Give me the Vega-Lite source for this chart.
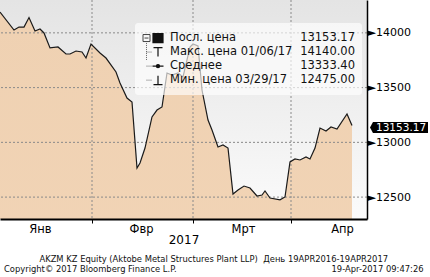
{
  "$schema": "https://vega.github.io/schema/vega-lite/v6.json",
  "width": 367,
  "height": 219,
  "autosize": {"type": "none"},
  "padding": {"left": 0, "top": 0, "right": 63, "bottom": 58},
  "background": "white",
  "config": {
    "font": "DejaVu Sans",
    "view": {"stroke": null, "fill": {"gradient": "linear", "x1": 0, "y1": 0, "x2": 0, "y2": 1, "stops": [{"offset": 0, "color": "#e4e4e4"}, {"offset": 1, "color": "#fbfbfb"}]}}
  },
  "title": {
    "text": "AKZM KZ Equity (Aktobe Metal Structures Plant LLP)\u00a0 День 19APR2016-19APR2017",
    "subtitle": "Copyright© 2017 Bloomberg Finance L.P.\u2003\u2003\u2003\u2003\u2003\u2003\u2003\u2003\u2003\u2003\u2003\u2003\u2003\u2003\u2003\u2003\u2003\u2003\u200219-Apr-2017 09:47:26",
    "orient": "bottom",
    "anchor": "middle",
    "frame": "bounds",
    "font": "DejaVu Sans",
    "fontSize": 8.4,
    "fontWeight": "normal",
    "color": "#111",
    "subtitleFont": "DejaVu Sans",
    "subtitleFontSize": 8.4,
    "subtitleColor": "#111",
    "subtitlePadding": 2,
    "offset": 9
  },
  "datasets": {
    "price": [
      {"d": 0.2, "price": 14190}, {"d": 3.0, "price": 14026}, {"d": 4.0, "price": 14053}, {"d": 5.0, "price": 14053},
      {"d": 6.0, "price": 14140}, {"d": 7.2, "price": 14017}, {"d": 8.2, "price": 14035}, {"d": 9.0, "price": 13999},
      {"d": 10.2, "price": 13862}, {"d": 11.8, "price": 13871}, {"d": 13.4, "price": 13807}, {"d": 14.2, "price": 13807},
      {"d": 15.4, "price": 13834}, {"d": 16.6, "price": 13825}, {"d": 17.4, "price": 13770}, {"d": 18.4, "price": 13898},
      {"d": 20.2, "price": 13816}, {"d": 21.4, "price": 13770}, {"d": 23.4, "price": 13643}, {"d": 24.2, "price": 13542},
      {"d": 25.6, "price": 13405}, {"d": 26.6, "price": 13369}, {"d": 27.6, "price": 12766}, {"d": 28.2, "price": 12812},
      {"d": 29.2, "price": 12948}, {"d": 30.6, "price": 13232}, {"d": 31.6, "price": 13295}, {"d": 32.6, "price": 13323},
      {"d": 33.6, "price": 13633}, {"d": 34.6, "price": 13615}, {"d": 35.8, "price": 13633}, {"d": 36.8, "price": 13597},
      {"d": 38.2, "price": 13871}, {"d": 38.8, "price": 13898}, {"d": 39.8, "price": 13880}, {"d": 40.6, "price": 13478},
      {"d": 41.8, "price": 13204}, {"d": 42.6, "price": 13113}, {"d": 43.8, "price": 12958}, {"d": 44.8, "price": 12976},
      {"d": 45.8, "price": 12948}, {"d": 46.8, "price": 12528}, {"d": 47.8, "price": 12565}, {"d": 49.0, "price": 12601},
      {"d": 50.2, "price": 12583}, {"d": 51.6, "price": 12510}, {"d": 52.6, "price": 12519}, {"d": 53.2, "price": 12556},
      {"d": 54.2, "price": 12492}, {"d": 56.2, "price": 12475}, {"d": 57.2, "price": 12501}, {"d": 58.2, "price": 12821},
      {"d": 59.2, "price": 12848}, {"d": 60.2, "price": 12839}, {"d": 61.4, "price": 12866}, {"d": 62.2, "price": 12848},
      {"d": 63.2, "price": 12948}, {"d": 64.2, "price": 13131}, {"d": 65.4, "price": 13104}, {"d": 66.4, "price": 13140},
      {"d": 67.6, "price": 13122}, {"d": 69.6, "price": 13259}, {"d": 70.6, "price": 13153.17}
    ],
    "stats": [
      {"row": 1, "label": "Посл. цена", "value": 13153.17},
      {"row": 2, "label": "Макс. цена 01/06/17", "value": 14140.00},
      {"row": 3, "label": "Среднее", "value": 13333.40},
      {"row": 4, "label": "Мин. цена 03/29/17", "value": 12475.00}
    ]
  },
  "layer": [
    {
      "layer": [
        {
          "data": {"name": "price"},
          "mark": {"type": "area", "clip": true, "line": false,
            "color": {"gradient": "linear", "x1": 0, "y1": 0, "x2": 0, "y2": 1, "stops": [{"offset": 0, "color": "#efd1b2"}, {"offset": 1, "color": "#fde3c8"}]}},
          "encoding": {
            "x": {"field": "d", "type": "quantitative", "scale": {"domain": [0.2, 73.6], "nice": false, "zero": false},
              "axis": {
                "values": [8.2, 18.6, 28.4, 38.8, 48.8, 58.4, 68.6],
                "grid": false, "domainColor": "#000", "domainWidth": 2,
                "tickColor": "#000", "tickSize": 4, "tickWidth": 1,
                "tickOpacity": {"condition": {"test": "datum.value == 8.2 || datum.value == 28.4 || datum.value == 48.8 || datum.value == 68.6", "value": 0}, "value": 1},
                "labelExpr": "datum.value == 8.2 ? 'Янв' : datum.value == 28.4 ? 'Фвр' : datum.value == 48.8 ? 'Мрт' : datum.value == 68.6 ? 'Апр' : ''",
                "labelFont": "DejaVu Sans", "labelFontSize": 11.5, "labelColor": "#000", "labelPadding": 0,
                "labelFlush": false, "labelOverlap": false,
                "title": "2017", "titleFont": "DejaVu Sans", "titleFontSize": 12, "titleFontWeight": "normal", "titleColor": "#000", "titlePadding": 0,
                "zindex": 1
              }},
            "y": {"field": "price", "type": "quantitative", "scale": {"domain": [12300, 14300], "nice": false, "zero": false},
              "axis": {
                "orient": "right",
                "values": [12500, 12750, 13000, 13250, 13500, 13750, 14000, 14250],
                "grid": false, "domainColor": "#000", "domainWidth": 1.5,
                "tickColor": "#000", "tickSize": 4,
                "tickOpacity": {"condition": {"test": "datum.value % 500 == 0", "value": 0}, "value": 1},
                "labelExpr": "datum.value % 500 == 0 ? '►' + datum.value : ''",
                "labelFont": "DejaVu Sans", "labelFontSize": 11, "labelColor": "#000", "labelPadding": -4,
                "labelBaseline": "middle", "labelFlush": false, "labelOverlap": false,
                "title": null, "zindex": 1
              }}
          }
        },
        {
          "data": {"values": [{"price": 12500}, {"price": 13000}, {"price": 13500}, {"price": 14000}]},
          "mark": {"type": "rule", "color": "#8a8a8a", "strokeDash": [2, 2], "strokeWidth": 1},
          "encoding": {"y": {"field": "price", "type": "quantitative"}}
        },
        {
          "data": {"values": [{"d": 18.6}, {"d": 38.8}, {"d": 58.4}]},
          "mark": {"type": "rule", "color": "#8a8a8a", "strokeDash": [2, 2], "strokeWidth": 1},
          "encoding": {"x": {"field": "d", "type": "quantitative"}}
        },
        {
          "data": {"name": "price"},
          "mark": {"type": "line", "clip": true, "color": "#1a1a1a", "strokeWidth": 1.2},
          "encoding": {
            "x": {"field": "d", "type": "quantitative"},
            "y": {"field": "price", "type": "quantitative"}
          }
        },
        {
          "data": {"values": [{}]},
          "mark": {"type": "rect", "fill": "white", "opacity": 0.65, "cornerRadius": 3},
          "encoding": {
            "x": {"datum": 27.2, "type": "quantitative"},
            "x2": {"datum": 72.6},
            "y": {"datum": 14090, "type": "quantitative"},
            "y2": {"datum": 13432}
          }
        },
        {
          "data": {"name": "price"},
          "transform": [{"joinaggregate": [{"op": "max", "field": "d", "as": "maxd"}]}, {"filter": "datum.d == datum.maxd"}],
          "mark": {"type": "point", "filled": true, "fill": "#000", "opacity": 1, "size": 23104,
            "shape": "M0.237,0.025L0.276,-0.047H1V0.097H0.276Z"},
          "encoding": {
            "x": {"field": "d", "type": "quantitative"},
            "y": {"field": "price", "type": "quantitative"}
          }
        },
        {
          "data": {"name": "price"},
          "transform": [{"joinaggregate": [{"op": "max", "field": "d", "as": "maxd"}]}, {"filter": "datum.d == datum.maxd"}],
          "mark": {"type": "text", "align": "left", "baseline": "middle", "dx": 24, "dy": 2, "color": "white", "font": "DejaVu Sans", "fontSize": 10.5},
          "encoding": {
            "x": {"field": "d", "type": "quantitative"},
            "y": {"field": "price", "type": "quantitative"},
            "text": {"field": "price", "type": "quantitative", "format": ".2f"}
          }
        }
      ]
    },
    {
      "data": {"name": "stats"},
      "layer": [
        {
          "transform": [{"filter": "datum.row == 1"}],
          "mark": {"type": "rule", "color": "#666", "strokeDash": [1, 1], "strokeWidth": 1, "yOffset": 24},
          "encoding": {
            "x": {"datum": 29.5, "type": "quantitative"},
            "y": {"datum": 1.35, "type": "quantitative", "scale": {"domain": [0, 15.6], "reverse": true}, "axis": null},
            "y2": {"datum": 4.3}
          }
        },
        {
          "transform": [{"filter": "datum.row > 1"}],
          "mark": {"type": "rule", "color": "#666", "strokeDash": [1, 1], "strokeWidth": 1, "yOffset": 24},
          "encoding": {
            "x": {"datum": 29.5, "type": "quantitative"},
            "x2": {"datum": 30.6},
            "y": {"field": "row", "type": "quantitative", "scale": {"domain": [0, 15.6], "reverse": true}, "axis": null}
          }
        },
        {
          "transform": [{"filter": "datum.row == 1"}],
          "mark": {"type": "point", "filled": false, "stroke": "#444", "strokeWidth": 1, "opacity": 1, "size": 400,
            "shape": "M-0.35,-0.35H0.35V0.35H-0.35ZM-0.2,0H0.2", "yOffset": 24},
          "encoding": {
            "x": {"datum": 29.5, "type": "quantitative"},
            "y": {"field": "row", "type": "quantitative", "scale": {"domain": [0, 15.6], "reverse": true}, "axis": null}
          }
        },
        {
          "mark": {"type": "point", "filled": true, "fill": "#111", "stroke": "#111", "strokeWidth": 1.2, "opacity": 1, "size": 400, "yOffset": 24},
          "encoding": {
            "x": {"datum": 31.8, "type": "quantitative"},
            "y": {"field": "row", "type": "quantitative", "scale": {"domain": [0, 15.6], "reverse": true}, "axis": null},
            "shape": {"field": "label", "type": "nominal", "legend": null,
              "scale": {"domain": ["Посл. цена", "Макс. цена 01/06/17", "Среднее", "Мин. цена 03/29/17"],
                "range": ["M-0.5,-0.45H0.5V0.45H-0.5Z", "M-0.45,-0.45H0.45M0,-0.45V0.45", "M-0.55,0H0.55M0.16,0A0.16,0.16,0,1,1,-0.16,0A0.16,0.16,0,1,1,0.16,0", "M0,-0.45V0.45M-0.45,0.45H0.45"]}}
          }
        },
        {
          "mark": {"type": "text", "align": "left", "baseline": "middle", "font": "DejaVu Sans", "fontSize": 11.5, "color": "#111", "yOffset": 24},
          "encoding": {
            "x": {"datum": 34.2, "type": "quantitative"},
            "y": {"field": "row", "type": "quantitative", "scale": {"domain": [0, 15.6], "reverse": true}, "axis": null},
            "text": {"field": "label", "type": "nominal"}
          }
        },
        {
          "mark": {"type": "text", "align": "right", "baseline": "middle", "font": "DejaVu Sans", "fontSize": 11.5, "color": "#111", "yOffset": 24},
          "encoding": {
            "x": {"datum": 71.2, "type": "quantitative"},
            "y": {"field": "row", "type": "quantitative", "scale": {"domain": [0, 15.6], "reverse": true}, "axis": null},
            "text": {"field": "value", "type": "quantitative", "format": ".2f"}
          }
        }
      ]
    }
  ],
  "resolve": {"scale": {"y": "independent"}}
}
